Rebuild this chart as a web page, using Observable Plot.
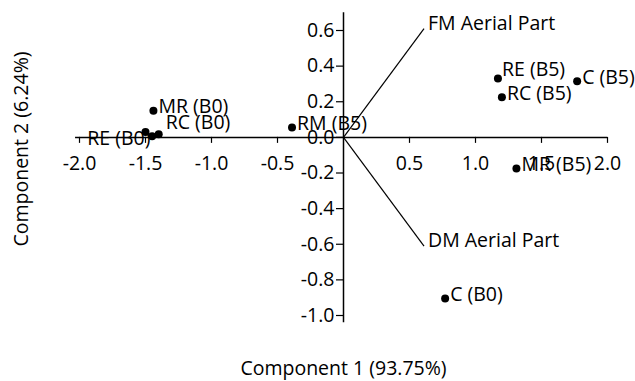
<!DOCTYPE html>
<html>
<head>
<meta charset="utf-8">
<script src="https://cdn.jsdelivr.net/npm/d3@7"></script>
<script src="https://cdn.jsdelivr.net/npm/@observablehq/plot@0.6"></script>
<style>
  html, body { margin: 0; padding: 0; background: #fff; }
  #chart svg { display: block; }
</style>
</head>
<body>
<div id="chart"></div>
<script>
// Scores (Component 1, Component 2)
const sampleNames = ["MR (B0)", "RC (B0)", "RE (B0)", "", "RM (B5)", "RE (B5)", "RC (B5)", "C (B5)", "MR (B5)", "C (B0)"];
const comp1 = [-1.44, -1.40, -1.50, -1.45, -0.39, 1.17, 1.20, 1.77, 1.31, 0.77];
const comp2 = [0.15, 0.017, 0.03, 0.006, 0.056, 0.33, 0.225, 0.315, -0.175, -0.905];

// Loadings (biplot vectors)
const loadingNames = ["FM Aerial Part", "DM Aerial Part"];
const loadX = [0.61, 0.61];
const loadY = [0.61, -0.61];

// Axis ticks
const xTicks = [-2.0, -1.5, -1.0, -0.5, 0.5, 1.0, 1.5, 2.0];
const yTicks = [0.6, 0.4, 0.2, 0.0, -0.2, -0.4, -0.6, -0.8, -1.0];

const points = sampleNames.map((n, i) => ({name: n, x: comp1[i], y: comp2[i]}));
const loadings = loadingNames.map((n, i) => ({name: n, x: loadX[i], y: loadY[i]}));

const font = "'Open Sans', 'Noto Sans', sans-serif";
const fs = 19.5;
const fmt = d => d.toFixed(1);

const normal = points.filter(d => d.name && !["RE (B0)", "RC (B0)", "RE (B5)"].includes(d.name));
const named = n => points.filter(d => d.name === n);

const chart = Plot.plot({
  width: 635,
  height: 381,
  marginLeft: 79,
  marginRight: 28,
  marginTop: 30,
  marginBottom: 66,
  x: {type: "linear", domain: [-2, 2], axis: null},
  y: {type: "linear", domain: [-1, 0.6], axis: null},
  style: {fontFamily: font, fontSize: fs + "px", color: "#000", background: "#fff", overflow: "visible"},
  marks: [
    // axis lines through origin
    Plot.ruleY([0], {x1: -2.03, x2: 2.0, stroke: "#000", strokeWidth: 1.5}),
    Plot.ruleX([0], {y1: -1.04, y2: 0.70, stroke: "#000", strokeWidth: 1.5}),
    // x ticks (below the axis)
    Plot.ruleX(xTicks, {x: d => d, y1: 0, y2: -6 / 178, stroke: "#000", strokeWidth: 1.2}),
    Plot.text(xTicks, {x: d => d, y: 0, text: fmt, dy: 26, fontSize: fs, fill: "#000"}),
    // y ticks (left of the axis)
    Plot.ruleY(yTicks, {y: d => d, x1: 0, x2: -7 / 132, stroke: "#000", strokeWidth: 1.2}),
    Plot.text(yTicks, {x: 0, y: d => d, text: fmt, dx: -9, textAnchor: "end", fontSize: fs, fill: "#000"}),
    // loading vectors
    Plot.link(loadings, {x1: 0, y1: 0, x2: "x", y2: "y", stroke: "#000", strokeWidth: 1.2}),
    Plot.text(loadings, {x: "x", y: "y", text: "name", textAnchor: "start", dx: 4, dy: -5, fontSize: fs, fill: "#000"}),
    // sample scores
    Plot.dot(points, {x: "x", y: "y", r: 4, fill: "#000", stroke: "none"}),
    Plot.text(normal, {x: "x", y: "y", text: "name", textAnchor: "start", dx: 5, dy: -4, fontSize: fs, fill: "#000"}),
    Plot.text(named("RE (B5)"), {x: "x", y: "y", text: "name", textAnchor: "start", dx: 4, dy: -9, fontSize: fs, fill: "#000"}),
    Plot.text(named("RC (B0)"), {x: "x", y: "y", text: "name", textAnchor: "start", dx: 7, dy: -12, fontSize: fs, fill: "#000"}),
    Plot.text(named("RE (B0)"), {x: "x", y: "y", text: "name", textAnchor: "end", dx: 5, dy: 7, fontSize: fs, fill: "#000"}),
    // axis titles
    Plot.text(["Component 1 (93.75%)"], {frameAnchor: "bottom", textAnchor: "middle", lineAnchor: "middle", dy: 53, fontSize: fs, fill: "#000"}),
    Plot.text(["Component 2 (6.24%)"], {frameAnchor: "left", textAnchor: "middle", lineAnchor: "middle", dx: -58, dy: -24, rotate: -90, fontSize: fs, fill: "#000"})
  ]
});

document.getElementById("chart").appendChild(chart);
</script>
</body>
</html>
